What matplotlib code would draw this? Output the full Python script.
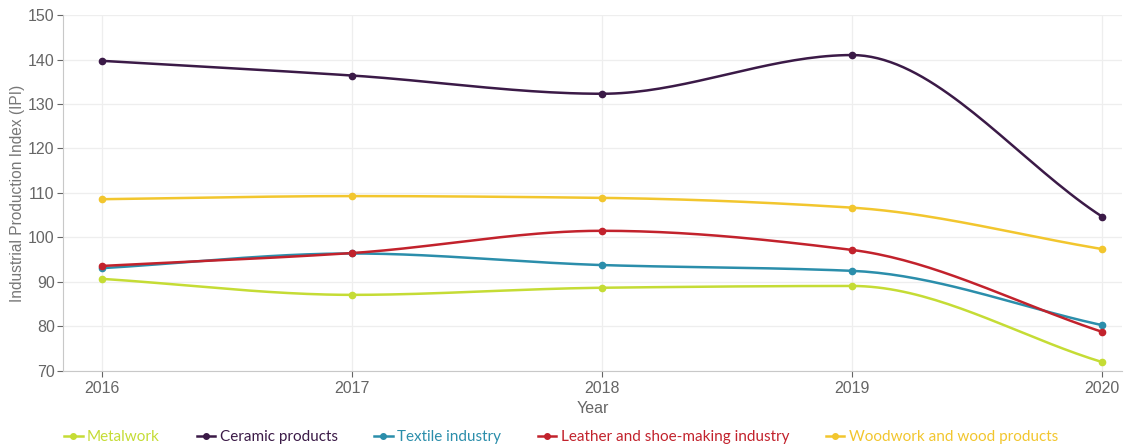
import numpy as np
import matplotlib.pyplot as plt

years = [2016, 2017, 2018, 2019, 2020]
metalwork = [90.7, 87.1, 88.7, 89.1, 72.0]
ceramic = [139.7, 136.4, 132.3, 141.0, 104.7]
textile = [93.1, 96.4, 93.8, 92.5, 80.3]
leather = [93.6, 96.5, 101.5, 97.2, 78.8]
woodwork = [108.6, 109.3, 108.9, 106.7, 97.4]

series = [
    ("Metalwork", metalwork, "#c5dc35"),
    ("Ceramic products", ceramic, "#3b1a47"),
    ("Textile industry", textile, "#2b8eab"),
    ("Leather and shoe-making industry", leather, "#c2222c"),
    ("Woodwork and wood products", woodwork, "#f2c62e"),
]


def monotone_curve(x, y, n=40):
    # monotone cubic (Fritsch-Carlson) for a smooth line through the points
    x = np.asarray(x, float)
    y = np.asarray(y, float)
    h = np.diff(x)
    d = np.diff(y) / h
    m = np.zeros_like(y)
    m[0], m[-1] = d[0], d[-1]
    for i in range(1, len(y) - 1):
        if d[i - 1] * d[i] <= 0:
            m[i] = 0
        else:
            w1 = 2 * h[i] + h[i - 1]
            w2 = h[i] + 2 * h[i - 1]
            m[i] = (w1 + w2) / (w1 / d[i - 1] + w2 / d[i])
    xs, ys = [], []
    for i in range(len(x) - 1):
        t = np.linspace(0, 1, n)
        h00 = 2 * t**3 - 3 * t**2 + 1
        h10 = t**3 - 2 * t**2 + t
        h01 = -2 * t**3 + 3 * t**2
        h11 = t**3 - t**2
        xs.append(x[i] + t * h[i])
        ys.append(h00 * y[i] + h10 * h[i] * m[i] + h01 * y[i + 1] + h11 * h[i] * m[i + 1])
    return np.concatenate(xs), np.concatenate(ys)


plt.rcParams['font.family'] = ['Liberation Sans', 'DejaVu Sans']

fig = plt.figure(figsize=(11.29, 4.48), dpi=100)
ax = fig.add_axes([0.0558, 0.172, 0.938, 0.7945])

handles = []
for name, vals, color in series:
    cx, cy = monotone_curve(years, vals)
    ax.plot(cx, cy, color=color, lw=1.8, zorder=3)
    ax.plot(years, vals, 'o', color=color, ms=4.5, zorder=4)
    h, = ax.plot([], [], '-o', color=color, lw=1.8, ms=4, label=name)
    handles.append(h)

ax.set_xlim(2015.844, 2020.08)
ax.set_ylim(70, 150)
ax.set_xticks(years)
ax.set_yticks(range(70, 151, 10))
ax.grid(color='#eeeeee', lw=0.9, zorder=0)
for s in ['top', 'right']:
    ax.spines[s].set_visible(False)
for s in ['left', 'bottom']:
    ax.spines[s].set_color('#c8c8c8')
ax.tick_params(colors='#666666', labelsize=11.5, length=4, width=0.8)
ax.tick_params(axis='x', pad=3)
ax.tick_params(axis='y', pad=2)
ax.set_xlabel('Year', color='#666666', fontsize=11.5, labelpad=4)
ax.set_ylabel('Industrial Production Index (IPI)', color='#777777', fontsize=11.2)
ax.yaxis.set_label_coords(-0.036, 0.5)

leg = fig.legend(handles=handles, loc='center', bbox_to_anchor=(0.497, 0.024), ncol=5,
                 frameon=False, handlelength=1.2, handletextpad=0.3, columnspacing=2.4,
                 labelcolor='linecolor', prop={'family': 'Lato', 'size': 11})

fig.savefig('out.png', dpi=100)
